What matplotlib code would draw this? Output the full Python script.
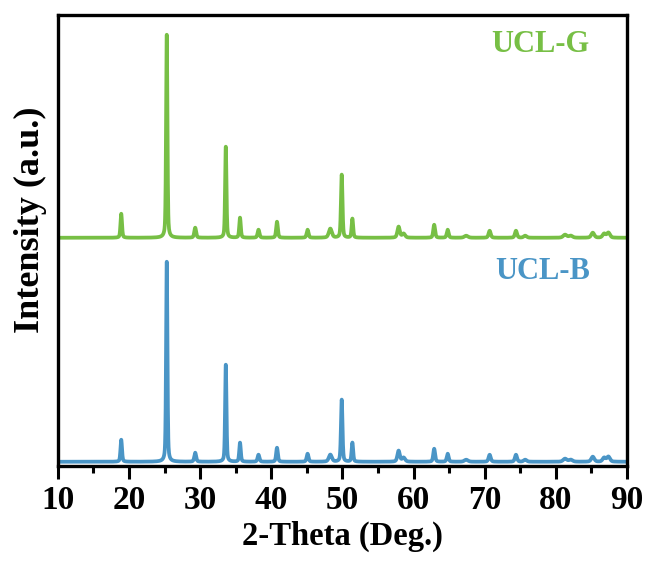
import numpy as np
import matplotlib
matplotlib.use("Agg")
import matplotlib.pyplot as plt
from matplotlib.ticker import MultipleLocator

plt.rcParams["font.family"] = ["Liberation Serif", "DejaVu Serif"]
plt.rcParams["font.weight"] = "bold"

# Reflection positions (2-theta, deg) and peak heights (a.u.) of the two samples
peak_pos = [18.9, 25.3, 29.3, 33.6, 35.6, 38.2, 40.8, 45.1, 48.3, 49.9, 51.4,
            57.9, 58.6, 62.9, 64.8, 67.4, 70.7, 74.4, 75.7, 81.3, 82.1, 85.2, 86.8, 87.4]
peak_fwhm = [0.25, 0.22, 0.3, 0.22, 0.25, 0.3, 0.28, 0.3, 0.5, 0.25, 0.25,
             0.4, 0.5, 0.3, 0.3, 0.6, 0.35, 0.35, 0.5, 0.6, 0.6, 0.5, 0.5, 0.5]
height_b = [22, 200, 9, 97, 19, 7, 14, 8, 7, 62, 19,
            11, 4, 13, 8, 2, 7, 7, 2, 3, 2, 5, 4, 5]
height_g = [24, 203, 10, 91, 20, 8, 16, 8, 9, 63, 19,
            11, 4, 13, 8, 2, 7, 7, 2, 3, 2, 5, 4, 5]
green_offset = 224

labels = ["UCL-B", "UCL-G"]
colors = ["#4a95c6", "#77bf45"]


def pattern(tt, heights):
    y = np.zeros_like(tt)
    for p, w, h in zip(peak_pos, peak_fwhm, heights):
        g = np.exp(-4 * np.log(2) * ((tt - p) / w) ** 2)
        lo = 1 / (1 + 4 * ((tt - p) / w) ** 2)
        y += h * (0.6 * g + 0.4 * lo)
    return y


two_theta = np.arange(10, 90.001, 0.02)
blue = pattern(two_theta, height_b)
green = pattern(two_theta, height_g) + green_offset

fig = plt.figure(figsize=(6.51, 5.68), dpi=100)
ax = fig.add_axes([0.089, 0.18, 0.874, 0.794])

ax.plot(two_theta, blue, color=colors[0], lw=2.7)
ax.plot(two_theta, green, color=colors[1], lw=2.7)

ax.text(0.935, 0.43, labels[0], transform=ax.transAxes, color=colors[0],
        fontsize=22, fontweight="bold", ha="right", va="center")
ax.text(0.935, 0.933, labels[1], transform=ax.transAxes, color=colors[1],
        fontsize=22, fontweight="bold", ha="right", va="center")

ax.set_xlim(10, 90)
ax.set_ylim(-4, 447)
ax.xaxis.set_major_locator(MultipleLocator(10))
ax.xaxis.set_minor_locator(MultipleLocator(5))
ax.set_yticks([])
ax.tick_params(axis="x", which="major", direction="out", length=9, width=2.2,
               labelsize=24, pad=5)
ax.tick_params(axis="x", which="minor", direction="out", length=5, width=2.2)
for s in ax.spines.values():
    s.set_linewidth(2.4)

ax.set_xlabel("2-Theta (Deg.)", fontsize=23.5, fontweight="bold", labelpad=3)
ax.set_ylabel("Intensity (a.u.)", fontsize=26, fontweight="bold")
ax.yaxis.set_label_coords(-0.02, 0.545)

fig.savefig("out.png", dpi=100)
